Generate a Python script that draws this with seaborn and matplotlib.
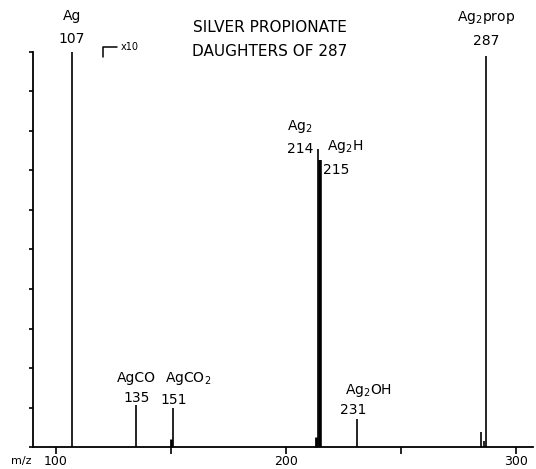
import matplotlib
matplotlib.use("Agg")
import matplotlib.pyplot as plt
import seaborn as sns
import pandas as pd

# ---- data ----
mz = [107, 135, 150, 151, 213, 214, 215, 231, 285, 286, 287]
intensity = [100, 10.6, 2.0, 9.9, 2.5, 75.4, 72.7, 7.1, 3.8, 1.5, 99]
label_mz = [107, 135, 151, 214, 215, 231, 287]
label_formula = ["Ag", "AgCO", r"AgCO$_2$", r"Ag$_2$", r"Ag$_2$H", r"Ag$_2$OH", r"Ag$_2$prop"]
label_mass = ["107", "135", "151", "214", "215", "231", "287"]
x_ticks = [100, 150, 200, 250, 300]
x_ticklabels = ["100", "", "200", "", "300"]
y_ticks = list(range(0, 101, 10))
title_lines = ["SILVER PROPIONATE", "DAUGHTERS OF 287"]

df = pd.DataFrame({"mz": mz, "intensity": intensity})

sns.set_theme(style="ticks")
plt.rcParams["font.family"] = ["DejaVu Sans"]
plt.rcParams["mathtext.default"] = "regular"
plt.rcParams["text.color"] = "black"

fig = plt.figure(figsize=(5.36, 4.69), dpi=100)
ax = fig.add_axes([33 / 536, 22 / 469, 500 / 536, 395 / 469])

# stick spectrum
widths = [2.6 if m == 215 else (2.0 if m in (150, 213) else 1.2) for m in df["mz"]]
ax.vlines(df["mz"], 0, df["intensity"], colors="black", linewidths=widths, clip_on=False)

ax.set_xlim(90, 90 + 500 / 2.3)
ax.set_ylim(0, 100)
sns.despine(ax=ax, top=True, right=True)
for s in ("left", "bottom"):
    ax.spines[s].set_color("black")
    ax.spines[s].set_linewidth(1.3)

ax.set_xticks(x_ticks)
ax.set_xticklabels(x_ticklabels, fontsize=9)
ax.set_yticks(y_ticks)
ax.set_yticklabels([])
ax.tick_params(axis="x", direction="out", length=5, width=1.2, pad=1, colors="black")
ax.tick_params(axis="y", direction="out", length=3, width=1.2, colors="black")
ax.text(-0.045, -0.036, "m/z", transform=ax.transAxes, fontsize=8, ha="left", va="center",
        color="black")

# peak labels (offsets in pixels: formula, mass)
offsets = {
    107: ((0, 36, "center"), (0, 13, "center")),
    135: ((0, 27, "center"), (0, 7, "center")),
    151: ((-8, 29, "left"), (0, 8, "center")),
    214: ((-18, 23, "center"), (-18, 0, "center")),
    215: ((7, 13, "left"), (16, -10, "center")),
    231: ((-12, 28, "left"), (-4, 9, "center")),
    287: ((0, 38, "center"), (0, 15, "center")),
}
heights = dict(zip(df["mz"], df["intensity"]))
for m, f, t in zip(label_mz, label_formula, label_mass):
    (fx, fy, fha), (tx, ty, tha) = offsets[m]
    ax.annotate(f, xy=(m, heights[m]), xytext=(fx, fy), textcoords="offset pixels",
                ha=fha, va="center", fontsize=10, annotation_clip=False, color="black")
    ax.annotate(t, xy=(m, heights[m]), xytext=(tx, ty), textcoords="offset pixels",
                ha=tha, va="center", fontsize=10, annotation_clip=False, color="black")

# x10 marker
ax.plot([0.14, 0.14, 0.168], [0.987, 1.013, 1.013], color="black", lw=1.1,
        transform=ax.transAxes, clip_on=False)
ax.text(0.176, 1.013, "x10", transform=ax.transAxes, fontsize=7, ha="left", va="center",
        color="black")

# title
fig.text(270 / 536, 1 - 27 / 469, title_lines[0], ha="center", va="center", fontsize=11,
         color="black")
fig.text(270 / 536, 1 - 52 / 469, title_lines[1], ha="center", va="center", fontsize=11,
         color="black")

fig.savefig("out.png", dpi=100)
